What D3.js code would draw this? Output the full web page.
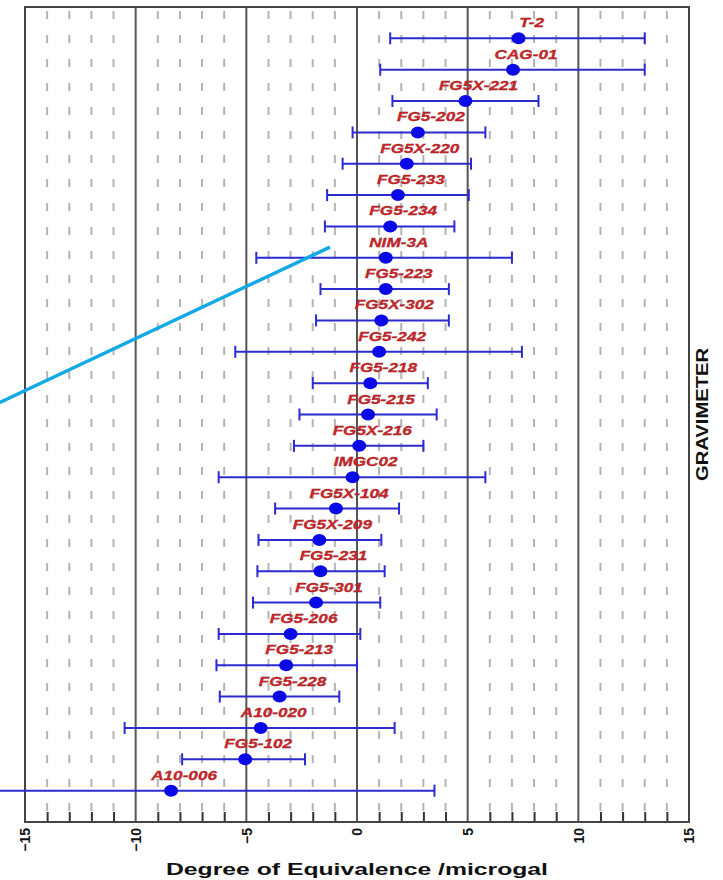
<!DOCTYPE html>
<html>
<head>
<meta charset="utf-8">
<script src="https://cdn.jsdelivr.net/npm/d3@7"></script>
<style>
  body { margin: 0; background: #fff; }
  svg { display: block; font-family: "Liberation Sans", Arial, sans-serif; }
</style>
</head>
<body>
<div id="chart"></div>
<script>
// gravimeter names, top to bottom
const gravimeters = ["T-2", "CAG-01", "FG5X-221", "FG5-202", "FG5X-220", "FG5-233", "FG5-234",
    "NIM-3A", "FG5-223", "FG5X-302", "FG5-242", "FG5-218", "FG5-215", "FG5X-216", "IMGC02",
    "FG5X-104", "FG5X-209", "FG5-231", "FG5-301", "FG5-206", "FG5-213", "FG5-228",
    "A10-020", "FG5-102", "A10-006"];
// degree of equivalence (microgal)
const doe = [7.3, 7.05, 4.9, 2.75, 2.25, 1.85, 1.5, 1.3, 1.3, 1.1, 1.0, 0.6, 0.5, 0.1, -0.2,
    -0.95, -1.7, -1.65, -1.85, -3.0, -3.2, -3.5, -4.35, -5.05, -8.4];
const lowerLimit = [1.5, 1.05, 1.6, -0.2, -0.65, -1.35, -1.45, -4.55, -1.65, -1.85, -5.5, -2.0,
    -2.6, -2.85, -6.25, -3.7, -4.45, -4.5, -4.7, -6.25, -6.35, -6.2, -10.5, -7.9, -20.3];
const upperLimit = [13.0, 13.0, 8.2, 5.8, 5.15, 5.05, 4.4, 7.0, 4.15, 4.15, 7.45, 3.2, 3.6,
    3.0, 5.8, 1.9, 1.1, 1.25, 1.05, 0.15, 0.0, -0.8, 1.7, -2.35, 3.5];

const majorTicks = [-15, -10, -5, 0, 5, 10, 15];
const minorTicks = d3.range(-14, 15).filter(v => v % 5 !== 0);

// hand-drawn pointer line, in data units (x: microgal, y: row index)
const pointer = { x1: -16.18, r1: 11.63, x2: -1.22, r2: 6.66 };

const width = 723;
const height = 880;
const margin = { top: 7, right: 34, bottom: 58, left: 25 };

const svg = d3.select("#chart").append("svg")
    .attr("width", width)
    .attr("height", height);

const x = d3.scaleLinear()
    .domain([-15, 15])
    .range([margin.left, width - margin.right]);

const y = d3.scalePoint()
    .domain(gravimeters)
    .range([margin.top, height - margin.bottom])
    .padding(1);

const rowY = d3.scaleLinear()
    .domain([0, gravimeters.length - 1])
    .range([y(gravimeters[0]), y(gravimeters[gravimeters.length - 1])]);

const plotBottom = height - margin.bottom;

// minor dashed grid
svg.append("g")
    .selectAll("line")
    .data(minorTicks)
    .join("line")
    .attr("x1", d => x(d)).attr("x2", d => x(d))
    .attr("y1", margin.top).attr("y2", plotBottom)
    .attr("stroke", "#b4b4b4")
    .attr("stroke-width", 2)
    .attr("stroke-dasharray", "8 16")
    .attr("stroke-dashoffset", 20);

// major solid grid
svg.append("g")
    .selectAll("line")
    .data(majorTicks.slice(1, -1))
    .join("line")
    .attr("x1", d => x(d)).attr("x2", d => x(d))
    .attr("y1", margin.top).attr("y2", plotBottom)
    .attr("stroke", "#555")
    .attr("stroke-width", 2);

// bottom minor ticks pointing inward
svg.append("g")
    .attr("transform", `translate(0,${plotBottom})`)
    .call(d3.axisBottom(x).tickValues(minorTicks).tickSize(-10).tickFormat(""))
    .call(g => g.select(".domain").remove())
    .selectAll("line")
    .attr("stroke", "#333")
    .attr("stroke-width", 2);

// tick labels (rotated)
svg.append("g")
    .attr("transform", `translate(0,${plotBottom})`)
    .call(d3.axisBottom(x).tickValues(majorTicks).tickSize(0).tickFormat(d3.format("d")))
    .call(g => g.select(".domain").remove())
    .selectAll("text")
    .attr("transform", "rotate(-90)")
    .attr("x", -6)
    .attr("y", 0)
    .attr("dy", "0.35em")
    .style("text-anchor", "end")
    .style("font-size", "14px")
    .style("font-weight", "bold")
    .style("font-family", "'Liberation Sans', Arial, sans-serif")
    .attr("fill", "#111");

// frame
svg.append("rect")
    .attr("x", margin.left)
    .attr("y", margin.top)
    .attr("width", x(15) - x(-15))
    .attr("height", plotBottom - margin.top)
    .attr("fill", "none")
    .attr("stroke", "#444")
    .attr("stroke-width", 2);

const rows = gravimeters.map((name, i) => ({
    name, value: doe[i], lo: lowerLimit[i], hi: upperLimit[i]
}));

const row = svg.append("g")
    .selectAll("g")
    .data(rows)
    .join("g")
    .attr("transform", d => `translate(0,${y(d.name)})`);

row.append("line")
    .attr("x1", d => x(d.lo)).attr("x2", d => x(d.hi))
    .attr("stroke", "#2b2bd0")
    .attr("stroke-width", 2);

row.selectAll(".cap")
    .data(d => [d.lo, d.hi])
    .join("line")
    .attr("class", "cap")
    .attr("x1", d => x(d)).attr("x2", d => x(d))
    .attr("y1", -6).attr("y2", 6)
    .attr("stroke", "#2b2bd0")
    .attr("stroke-width", 2);

row.append("ellipse")
    .attr("cx", d => x(d.value))
    .attr("rx", 7)
    .attr("ry", 6)
    .attr("fill", "#0a0ae6");

row.append("text")
    .attr("transform", d => `translate(${x(d.value) + 13},-11) scale(1.32,1)`)
    .attr("text-anchor", "middle")
    .style("font-size", "13px")
    .style("font-weight", "bold")
    .style("font-style", "italic")
    .attr("fill", "#d0262a")
    .attr("stroke", "#8a1a1a")
    .attr("stroke-width", 0.3)
    .text(d => d.name);

// pointer line
svg.append("line")
    .attr("x1", x(pointer.x1)).attr("y1", rowY(pointer.r1))
    .attr("x2", x(pointer.x2)).attr("y2", rowY(pointer.r2))
    .attr("stroke", "#12a9e6")
    .attr("stroke-width", 3.5);

// axis title
svg.append("text")
    .attr("x", (x(-15) + x(15)) / 2)
    .attr("y", 875)
    .attr("text-anchor", "middle")
    .attr("textLength", 382)
    .attr("lengthAdjust", "spacingAndGlyphs")
    .style("font-size", "17px")
    .style("font-weight", "bold")
    .attr("fill", "#111")
    .text("Degree of Equivalence /microgal");

// right side label
svg.append("text")
    .attr("transform", `translate(708,${(margin.top + plotBottom) / 2}) rotate(-90)`)
    .attr("text-anchor", "middle")
    .attr("textLength", 133)
    .attr("lengthAdjust", "spacingAndGlyphs")
    .style("font-size", "16px")
    .style("font-weight", "bold")
    .attr("fill", "#111")
    .text("GRAVIMETER");
</script>
</body>
</html>
